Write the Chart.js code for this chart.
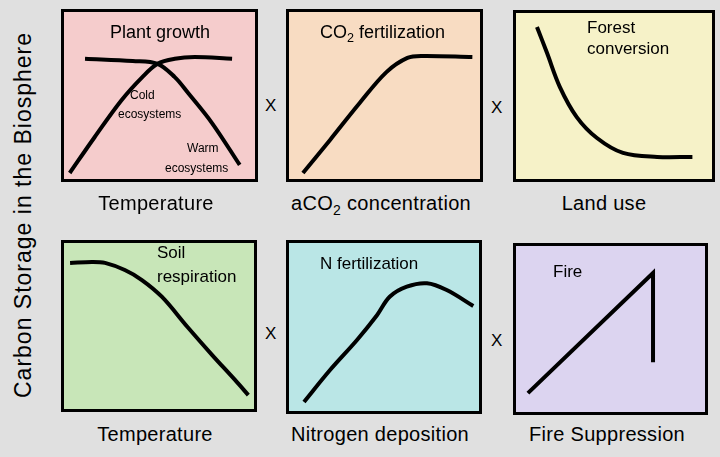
<!DOCTYPE html>
<html>
<head>
<meta charset="utf-8">
<script src="https://cdn.jsdelivr.net/npm/chart.js@4.4.0/dist/chart.umd.min.js"></script>
<style>
  body { margin: 0; background: #e0e0e0; font-family: "Liberation Sans", Arial, sans-serif; color: #000; }
  #page { position: relative; width: 720px; height: 457px; overflow: hidden; }
  .panel { position: absolute; box-sizing: border-box; border: 3px solid #000; }
  .panel canvas { display: block; }
  .t { position: absolute; white-space: nowrap; line-height: 1; }
  .big { font-size: 20px; letter-spacing: 0.3px; }
  .mid { font-size: 17px; }
  .small { font-size: 12px; }
  .x { font-size: 17px; }
  sub { font-size: 0.7em; vertical-align: -0.35em; line-height: 0; }
</style>
</head>
<body>
<div id="page">
  <div class="t" style="left:23px;top:215px;transform:translate(-50%,-50%) rotate(-90deg);font-size:23px;letter-spacing:1px;">Carbon Storage in the Biosphere</div>

  <div class="panel" style="left:61px;top:9px;width:197px;height:173px;background:#f5cccc"><canvas id="c1" width="191" height="167"></canvas></div>
  <div class="panel" style="left:286px;top:9px;width:197px;height:173px;background:#f8dcc2"><canvas id="c2" width="191" height="167"></canvas></div>
  <div class="panel" style="left:513px;top:10px;width:202px;height:172px;background:#f6f2c8"><canvas id="c3" width="196" height="166"></canvas></div>
  <div class="panel" style="left:61px;top:240px;width:196px;height:172px;background:#c8e6b8"><canvas id="c4" width="190" height="166"></canvas></div>
  <div class="panel" style="left:286px;top:240px;width:196px;height:174px;background:#bae6e6"><canvas id="c5" width="190" height="168"></canvas></div>
  <div class="panel" style="left:513px;top:243px;width:195px;height:172px;background:#dcd4f0"><canvas id="c6" width="189" height="166"></canvas></div>

  <div class="t mid" style="left:110px;top:23px;font-size:18px;">Plant growth</div>
  <div class="t small" style="left:130px;top:89px;">Cold</div>
  <div class="t small" style="left:118px;top:108px;">ecosystems</div>
  <div class="t small" style="left:187px;top:142px;">Warm</div>
  <div class="t small" style="left:165px;top:162px;">ecosystems</div>

  <div class="t mid" style="left:320px;top:23px;font-size:18px;">CO<sub>2</sub> fertilization</div>
  <div class="t mid" style="left:587px;top:19px;">Forest</div>
  <div class="t mid" style="left:587px;top:40px;">conversion</div>
  <div class="t mid" style="left:157px;top:244px;">Soil</div>
  <div class="t mid" style="left:157px;top:268px;">respiration</div>
  <div class="t mid" style="left:320px;top:255px;">N fertilization</div>
  <div class="t mid" style="left:553px;top:263px;">Fire</div>

  <div class="t big" style="left:156px;top:193px;transform:translateX(-50%);">Temperature</div>
  <div class="t big" style="left:381px;top:193px;transform:translateX(-50%);">aCO<sub>2</sub> concentration</div>
  <div class="t big" style="left:604px;top:193px;transform:translateX(-50%);">Land use</div>
  <div class="t big" style="left:155px;top:424px;transform:translateX(-50%);">Temperature</div>
  <div class="t big" style="left:380px;top:424px;transform:translateX(-50%);">Nitrogen deposition</div>
  <div class="t big" style="left:607px;top:424px;transform:translateX(-50%);">Fire Suppression</div>

  <div class="t x" style="left:265px;top:97px;">X</div>
  <div class="t x" style="left:491px;top:99px;">X</div>
  <div class="t x" style="left:265px;top:325px;">X</div>
  <div class="t x" style="left:491px;top:332px;">X</div>
</div>
<script>
// Plant growth vs temperature
const warmX = [11, 36, 49, 58, 65, 77.5, 92];
const warmY = [72, 70.7, 69, 61, 51.5, 33.5, 8.4];
const coldX = [3, 16, 30, 41, 49, 58, 68.5, 88];
const coldY = [3.6, 25, 47, 61, 69, 72, 73, 72];

// CO2 fertilization
const co2X = [7.3, 21.5, 37, 51, 62, 70, 96];
const co2Y = [3.6, 23.4, 45.5, 64, 72.5, 73.7, 73];

// Forest conversion vs land use
const landX = [10.7, 15.8, 22.4, 31, 41.3, 54.6, 72, 90];
const landY = [91.6, 76, 55.4, 37.3, 24.7, 15.7, 13.3, 13.3];

// Soil respiration vs temperature
const soilX = [3.2, 14.7, 21.6, 32, 41, 51.6, 65, 78, 90, 97];
const soilY = [88, 88.6, 88, 83.7, 77.7, 67.5, 49.4, 32.5, 17.5, 8.4];

// N fertilization vs nitrogen deposition
const nitX = [7.9, 21.6, 35.8, 46.3, 53, 62, 72.6, 83, 97];
const nitY = [5.4, 24.4, 42.3, 57, 68, 74, 76, 72, 62.5];

// Fire vs fire suppression
const fireX = [6.3, 72.5, 72.5];
const fireY = [11.4, 83.7, 30];

function pts(xs, ys) {
  return xs.map((x, i) => ({ x: x, y: ys[i] }));
}

function drawPanel(id, series, tension) {
  new Chart(document.getElementById(id), {
    type: 'line',
    data: {
      datasets: series.map(s => ({
        data: pts(s[0], s[1]),
        borderColor: '#000',
        borderWidth: 4,
        pointRadius: 0,
        borderCapStyle: 'butt',
        borderJoinStyle: 'miter',
        tension: tension
      }))
    },
    options: {
      responsive: false,
      animation: false,
      layout: { padding: 0 },
      scales: {
        x: { type: 'linear', min: 0, max: 100, display: false },
        y: { type: 'linear', min: 0, max: 100, display: false }
      },
      plugins: { legend: { display: false }, tooltip: { enabled: false } }
    }
  });
}

drawPanel('c1', [[warmX, warmY], [coldX, coldY]], 0.35);
drawPanel('c2', [[co2X, co2Y]], 0.35);
drawPanel('c3', [[landX, landY]], 0.35);
drawPanel('c4', [[soilX, soilY]], 0.35);
drawPanel('c5', [[nitX, nitY]], 0.35);
drawPanel('c6', [[fireX, fireY]], 0);
</script>
</body>
</html>
